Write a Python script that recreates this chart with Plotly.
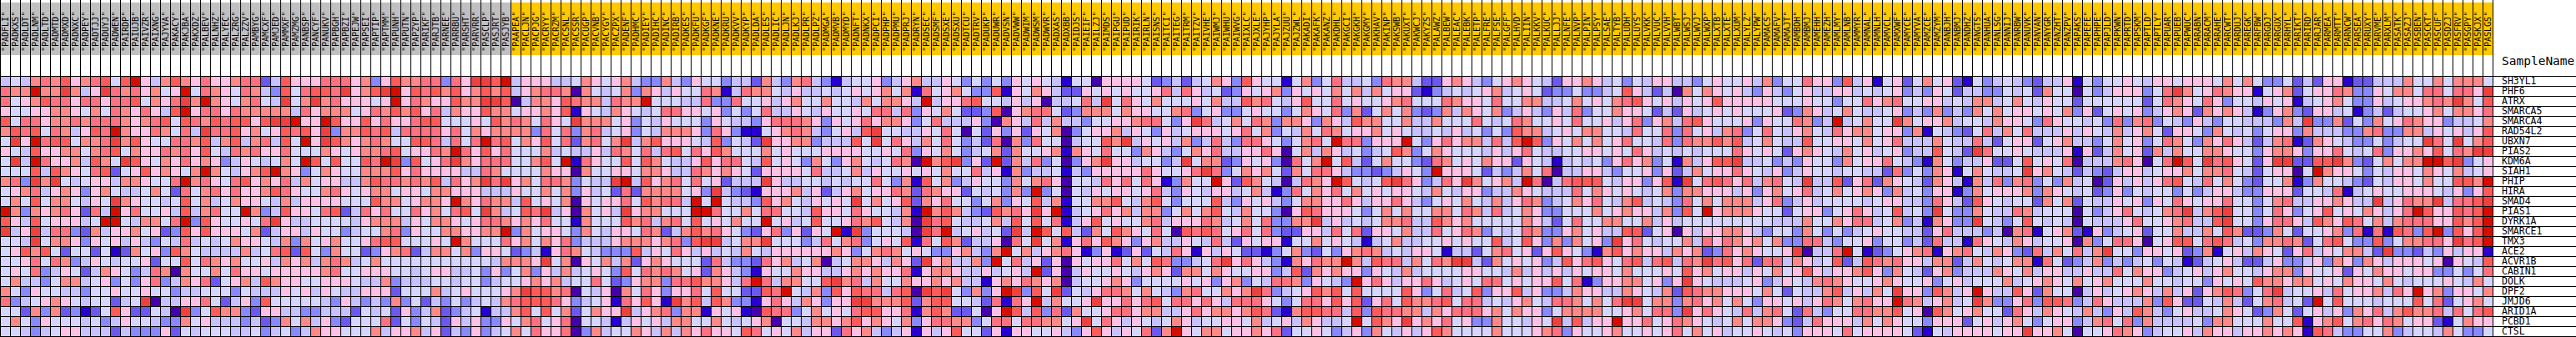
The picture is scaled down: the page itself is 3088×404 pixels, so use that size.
import plotly.graph_objects as go

genes = ["SH3YL1","PHF6","ATRX","SMARCA5","SMARCA4","RAD54L2","UBXN7","PIAS2","KDM6A","SIAH1","PHIP","HIRA","SMAD4",
         "PIAS1","DYRK1A","SMARCE1","TMX3","ACE2","ACVR1B","CABIN1","DOLK","DPF2","JMJD6","ARID1A","PCBD1","CTSL"]

samples_grey = ["PADFLI","PADKXS","PADLDT","PADLNM","PADLTD","PADMTD","PADMXD","PADNXC","PADPEY","PADTJJ","PADUYJ","PADWEN",
  "PAIRDP","PAIUJB","PAIVZR","PAIXNG","PAJYVA","PAKACY","PAKJBA","PAKXDZ","PALBEV","PALNHZ","PALYEC","PALZRG","PALZZV",
  "PAMBYG","PAMCXF","PAMJED","PAMMXF","PAMZMG","PANBSP","PANCYF","PANUKV","PAPBGH","PAPBZI","PAPEJW","PAPSEI","PAPTIP",
  "PAPTMM","PAPUNH","PAPUTN","PAPZYP","PARIKF","PARJTB","PARNEE","PARRBU","PARSHT","PARVRR","PASCLP","PASJRT","PASJYB"]
samples_gold = ["PAAPEA","PACLJN","PACPJG","PACRYY","PACRZM","PACSNL","PACSSR","PACUGP","PACVNB","PACYGY","PACZPX","PADENF","PADHMC",
  "PADIEY","PADIHC","PADINC","PADIRB","PADKES","PADKFU","PADKGF","PADKNE","PADKRU","PADKVV","PADKYP","PADLDA","PADLES","PADLIC",
  "PADLJN","PADLKJ","PADLPR","PADLPZ","PADMGA","PADMVB","PADMYD","PADNFT","PADNKX",
  "PADPCI","PADPHP","PADPMU","PADPRJ","PADRYN","PADSEC","PADSMF","PADSXE","PADSXU","PADTCU","PADTRV","PADUKP","PADUWR","PADVSN",
  "PADVWW","PADWIM","PADWSM","PADWVR","PADXAS","PADXBB","PAIDJS","PAIEIF","PAILZJ",
  "PAIMDS","PAIPGU","PAIPUD","PAIRIK","PAIRLN","PAISNS","PAITCI","PAITEG","PAITRM","PAITZV","PAIVHE","PAIWMJ","PAIWHU","PAIWVG",
  "PAIXLC","PAJXLE","PAJYHP","PAJYLA","PAJZUU","PAJZWL","PAKADI","PAKAFK","PAKANZ",
  "PAKDHL","PAKGCI","PAKGKH","PAKGMY","PAKHAV","PAKINP","PAKSWB","PAKUXT","PAKWCJ","PAKYZS","PALAWZ","PALBEW","PALEAC","PALEBK",
  "PALETP","PALFRE","PALFSE","PALGFF","PALHVD","PALIIN","PALKKV","PALKUC","PALLJJ",
  "PALNFE","PALNVP","PALPIN","PALPSY","PALSAE","PALTYB","PALUDH","PALUYS","PALVKK","PALVUC","PALVVH","PALWBT","PALWSJ","PALWVJ",
  "PALWXP","PALXTB","PALXTE","PALXUM","PALYLZ","PALYPW","PAMACS","PAMAFV","PAMAJT",
  "PAMBDH","PAMBMJ","PAMEHH","PAMEZH","PAMLMY","PAMLNB","PAMMYR","PAMNAL","PAMNLH","PAMVCL","PAMXWF","PAMYCE","PAMYVA","PAMZCE",
  "PAMZYM","PANBJH","PANBMJ","PANDHZ","PANGTS","PANHUA","PANLSG","PANNIJ","PANRBW",
  "PANUVK","PANVAN","PANYGR","PANZHT","PANZPV","PAPAKS","PAPEFE","PAPHPE","PAPJLD","PAPKWN","PAPRTD","PAPSKM","PAPTLD","PAPTLY",
  "PAPUAR","PAPUEB","PAPWUC","PARABN","PARACM","PARAHE","PARCWT","PARDUJ","PAREGK",
  "PARFBW","PARGDJ","PARGUX","PARHYL","PARIKT","PARIRD","PARJAR","PARMEA","PARMTT","PARNCW","PARSEA","PARUXY","PARVME","PARXLM",
  "PASATK","PASAZJ","PASBEN","PASCKT","PASCUF","PASDZJ","PASFRV","PASGPY","PASKJX","PASLGS"]

# Expression class of each cell, a (lowest) .. l (highest), gene by gene.
block_0 = """efehi hjghi jfjlg ehjhg igghi icejg ggiii ghdgj h
ihhlh hkheg kihig hfglf ihgfi hedjf ijjik ghjkl g
ifghj iigii giijf hgikh lhgfh ifekf hkhig ggfgl g
gffgg hhgfh fihgi gejlg iigih hhhhe ighhh fgihj h
jfiig hhihi iihgh ijfji hjijj gjkkl ggljg gjgig g
hjijf ihegj ilhgg ihfie kiijg hfgji jgkdh hjije i
fkgli jjfhh ikhjg ffiih jehje hiejf lgkjh ghihf f
gfejg ghhfh ijfhg gihig jfeih iggif ffhgf ghhij f
fkeli gghej hfkjg fhgig hgdeg fefhf ljfjf fjilk d
fffje jhgfi jcfgj ghgfh lhfeg hjlhg dfhgf fhhhj g
hidkh kfefg gehhg ffilh igfij ghgie hfgge ehjii h
fghie ghgdg hfeef hfcif higig ghjig ffhig fghhf g
fhfjf hhfeg fkhgf fefjf hefhg gfehe ggggf ffjhh f
lhdhg higci elgif fgeje hiffl hdejg gfijc eigif f
jgejf gggef llfeh hfild jgffg fikge effff eghhh e
kegke iidch egghf gcdjg jgggf hcegg egffd effhi d
ffekf hhgdg fgege dfeie fefhg gfehd hfghf fgijj f
fgjhj fcffc fbchf gdjhf eeeeh efijc jfdhf fcdgh i
ffgif ihdeg feffg cffjf ihghf fgehg hehih efhff f
fgfid egfce hgfde ihahf fhfig gfggg gghif fgggf f
fheed fhhef gdfdg idehg icfgh ejhgg ffggg feehd e
hfdgf feedf fgffg ffdee fffdf eeegf gegfe egggc f
idefg hgfef fcefk aeegg ifceg djfff ffedg ededh d
ffchd hcdbc fjgcc feakd fjhhd cggee ddeee cfefc g
fhfdg fffef degff eddhf geeed ecdhf hegdc fffic f
ffede fggee ecedd dgcfe fffee fdefd ehggf ffheg g"""

block_1 = """hiidigkkjlegggeefhgfghe
jijhjghjhjeghiihahfefhd
ihggjhhkkjaehhgjihheihh
jgiehggjhhfgghgjbgfehgf
ijjfffgfjhihfigfkhhhfgd
iiigifhghhhhdifidhiefgd
jjieifilijfhgjfichifhke
ggihligjgifffhefeegeihf
jfgikhgiiiffhjflbigffjf
iggggeeihffffhggahffggf
ihjeighkikghfiihdfeekle
gfhhgggeeegffhfhdgefcic
ghhglhgihhejfgfhagfggif
ighfijfkhefjikegahfgekg
gfhhgfgiihghgiffbhfffjh
gffhhgghhldhfggfdhfeggf
ffgflhfffighfhgideeeghh
cehhfhdggfcdebgihfedddj
ffffffffehhhgkfhagfhehc
efggeefdgdfhdgehefgfdjf
eeffeffdeffghgheffifcdg
ffhefgfffghkjjhiafegahf
fcedfdefehijjjigdefgbig
dehcdefbeehjfjfhcfhggke
dfecgegddgfhifgiaffebeg
hegcedgdefhfiggiadheffh"""

block_2 = """ddhedgffdeechedhiedbeff
hgegffihbeihhfegeefefgf
lfffeeiddiffgeghffhffeh
efiiggfgdfdfieegfegffgf
fegfffdgfeedgiiihgdgfgi
fehhhgdigdbbfghihedfgej
hjgggfejdfeckgghhdeeejf
ieijfigjhfffhfgfffggggf
jhfeegjgiifejfgfdhfdghf
hhgeeihghgfcggggfieefhe
jghififgceeekgeeffefeff
hhhhfgdkedcbggghegceghf
jhiielflfeedjghfegfgfkf
hhffflliffhfiiffejggfig
iehifjfgfhfflfgefjffgih
ihcehjhigfdcgidgcgflbkd
hghidjkkefhhkfffdeifhid
egfig egefe hfegg ggggh gdf
ghgff fcied dcigh efhae fhh
ihihf gchge dbgff hggee ghg
hhdii jhhge ilieh hffjk hie
igdgg ifjff ccjil fehdj gji
jgbkh jejhd dbgig ehgdg gkk
ghidh hbgfg bajii dfhfg fij
fgehh ffhfe fghaf fehhg hjg
gehehgiggfjifgfheggcigh"""

block_3 = """gdegh eegfd fdfdg fgfeb ffa
ghfhb ifghf ddjbg fhgec cgf
fhhge leggi jffeg egaee fie
iieid gfhfc cdjag hiifc dhh
ghhgd fieee gdahg eiehe edf
kffee gfifa fcgdg cgfha dfg
kfige hfifd eciah diffa eff
fgfid gfhfd efhch ffghb hgf
efiha lhjkd gclch eidfa dgh
gffgf gfhff iegbh deefb edg
ifdhb jfhde gffdh fhiga ffe
ggihc ihggc fefdh dldfa feg
hfgjc hgiff dfhdg fjehb ffh
ffehb lhjhe dcjhi gkglb efg
jfeha kijfe efhej fjfib egj
fffea kilef gefck eljfj ech
fgfjb ifjhc eegai fkfhb gig
hihfg fddgh edhlf heghi gbd
gehgc kghee hdlfi egcga gfg
hggib ghhge egefg elcga egf
hffhg ghghe ebghg ihgha eff
ieija kjkfd hdglk djfkc feg
hhhjc hjjff ecibi glehf fgk
jggib hjhcc faglj ejdic hff
hgfhd giihh dfiif iihhf gkf
edegb gegjf fcgbg gffge dgj"""

block_4 = """ggggf cdece fhgdj gffbf hdf
gfgff gieig efcdg fghdg fgf
kfigf hfffg fheej hifeg jff
hfhgg ffhid fgddf gffdf hgf
fgghi ifdgk iefhf ihdhh gdh
ghegf dgefg ggfgi fhdfe hfi
jhkeg fgehd eiedi igfdf hif
iffdh gedfh gieeg gigaf heh
kggef fdekf hhcdg fgdai fhl
ggggi gffgi kidfh ghfch fii
igifi gbdhf flgcj hfeae ihg
fggfg iedgf eggef hebdi fhg
hjfeh jfdff fjedg fgedf hhg
igheh hdfhf hjfeh ffdag jig
fgffh iegggihefh fiddh hke
fjhgf ifaji jifgi fidcc gge
jhgdg heegf eiecg fggbf fhf
gbcgc feigb gegfc cbdfh dcf
gifhf jidde fikgi gedbh gih
fgfeg hgchh fhgff ggdej chg
ghgdf fffgf gdghd feiih dgf
iihfh fedhi ffhgh kidef gjh
ggigi jfiig igeii igfdf iig
giigh heegi ghhgh jicbh jji
igegf efhge ffggf hefge hge
gegfi chlgf hhfgg hgicf fgf"""

block_5 = """ieefd ihhec cghge dfghg fec
hfheh fggcb defef ghefg fcd
ifgff ghiff fihgg fiffh hee
idhcf hfhdc dhehg fhdeg edg
gejhh ffhee hfffi fefih ffg
hfggh fgfee fegef dfdjh hef
liidg gglfd gighh eiejl jdg
gefde fjhdf hgfff egegi fee
fjecf hffdc ihfgf hggcg feb
geddc degfd lgggf cedeh fia
ljfef jkigd eigkh fghel iae
ifhfg fggfe hfegg deehg fee
gigeg giged fgfhf ehegi hde
ggfdf hfhff hhfih eiefh gdd
gefef hhiee jhghf ffffh gec
ificg gfhee ifgih dfefi hdd
gfebe fheef fgfgf fjefj gdh
dghih efegg fbeec fhifg cgj
hlhej iiehf ihkke chfgf gde
hggdg fehef fffgg ffehe geg
edlgi geggi gefgf iifgf ggj
jfjff ffjgd fiefj dggje gdd
jgjcg ifjhh ijfii efegh fei
iejdj iihhe hgiii ghfhg gdf
eflfj hgkgh gifgd dhffe gfk
degdh fegeg jhfff fhfff ghi"""

block_6 = """gghge fdfeg geedf gffge hdf
dfdde fjgec eahfh gfged ged
fhfgf hijgf gegfg jgggg gff
eidff hggfc ecgef gfgff fgc
fiffg egidg heijg fffgd gff
gfhhf feiff idifg ehidf ife
fhfhf giffe idihh jhjef hfe
ffggf gfige fefef ffigf gfc
efefd gighd fbheg jjkee fde
eegge dffgd gcehf ggigf egd
ijjjf eggdg jbkfi jigie hif
eifhg fgfef hdhhg ggegd ghf
fhgif ehjef edifh fhhhe gid
fffhf ghgge hdjfl ghhhg ffc
fiffh hffhe gefff fffff fee
ghfge ejjcf gageg ghhge dff
dhfgd kgife ffhei gihgh fhd
gfdbh jghgg ehghc dighg ffg
jgijg fijei jeihk ijgic iie
egfgg fhfff gfjgh fggeg fhf
fibdg ghhfg dgkgf eeefg deg
ehgge ehgfe hcjih hgggf hfc
ihfhf ikkfh hdhig hfhfd ggf
hhhhf fghfi idkgi gfeie hif
ejegg lggif gihgf efhfh hgd
dgffg hffgf gifhf geffg fef"""

block_7 = """figgd jegbf gcfhf gcbfd efe
fgeeg gefef gdedg fceed dfe
fgffd ffigh iffgg efehh efh
dhgef hfeef gdedh dedhf hfg
ihdel efhff khfgg heffe hgg
ghfei ghhfg gdhbf edcfi ehf
ejffg gfhfg ieeeh feeie cfg
ghgfe hfgef gdeej fecki ffg
dgffd hfggi fedbh fdeeg ccf
egffe ffeec idfdh gbfhf eef
ekeej cgich gfech gebhe idh
giefh fghgd hefdg gbdhf ggg
egeff ffefg geedi gecjg fef
fggdf gigef jefdk fddhf eei
ehffh giief hdebh gddkf edf
dhfdf defgf feecg ieeed eah
diied ffgdf fdeci eebig feh
kaeei lfbcd fghib ghife hgd
hgefj cejih iggeh hcehf efh
gjgeg ghjgd hfecg hdeee hgf
fehih gffgh gffgd fgeff fhe
feehj egehf kggdj heglg eej
gegih fhigg liheg hefkh ddg
ciedf fiihh jfgaj hfghf fci
ceigg gehfh gffdg ggcfg egh
dgggf ifggg gfcbf egggg fgg"""

block_8 = """dceeg bfdff gfegg fgggf hfh
fchff afdeg ggdfi khfgi hgg
fegff cffff ffcfi hgfig dff
gfgfh dgcfg fgdeg hgchg hge
fdigf fefdi dhidf edged ffe
ieeeg egfeh eghfc ggfdh fef
gcfgh eedfh fgdfi hfdhg ige
feeeg bgceh fgche hffhh gff
jfgfi aeeeh igafi ljfki jgf
kghfe cedce ggefg ghfhh ife
idfdh efacg egegi jfeif hfd
hdhgf efcdg dfeff dfdeg ged
fchfh cfeeg fgdgf igfgg iff
hefff afdeg ifefh ikehj kff
jfefe afeee giffg hieej kff
ibfgh cbgde fgcff heehf jhc
geffg ahdfi igafg jjfij ief
ciehf iehkf fdggf gcdhb fge
hbifc dehde defdf ebcef gec
hegge egeei fhggd efgeg hff
fghgf hfghf ffhff effdg fgf
gchff aegef ghgeh egcgh jid
idjji deige eehdj gccfe hec
gehgf ehedg ejhed fgeef hgf
fdfgg dehif idhee eefdh hff
kgghf affgi hgdef fgehg geg"""

block_9 = """fddfc ecggb cceee hffhf hhhf
bfghc fggih ddgfh hfiif iigk
egfgb efghf ddgef gghih khfj
bdghd cggef bdece ffghf hhgi
eedhe kddhc fdhfg ihggd eefh
dfggd heeed dhidd hhegf gegj
cehib chgfe ddfde ffkif kfhj
dghhg dggif efidg ghgjf ihkk
cgkkc cjjkh dcfhf hhllj kdfg
cfgga flhgg fdfeg gfhgf hefg
cffhb dhffe dcfeg gfhff jjhl
dgggc ffeib efgff gggfe gdgj
dfhie egghg eekeg ihhke iijk
dfigd fgjfg fhgeg iljgg jijl
dgiig ejhgj ifheh iiigg jhjl
cdhfc ffghd ibibj idjld jgjl
dhhih cfijf ddjdf hhiig kijl
hgfcg iegfh heckd dcedg eggb
cegdd egdhg dhgeg ggfga gfej
eghhd gffgc gfhgg fggdd fdfi
jhhgh hfgfh ggfhf efffg fehf
fikef fgeif gghei glghd ggfh
fhief clfjf ffeff fjfic fghf
cdhfc fgegd hgieh jhhie ifij
fhffj bghjf higih fggcb fhgg
ghghg bjied dffhd effeh fddf"""

palette = ["#4500ad","#2700d1","#6b58ef","#8888ff","#c7c1ff","#d5d5ff",
           "#ffc0e5","#ff8989","#ff7080","#ff5a5a","#ef4040","#d60c00"]
levels = "abcdefghijkl"
header_colors = ["#c0c0c0", "#ffc800"]

blocks = [block_0, block_1, block_2, block_3, block_4, block_5, block_6, block_7, block_8, block_9]
rows = ["".join(parts).replace(" ", "") for parts in zip(*[b.split("\n") for b in blocks])]
samples = samples_grey + samples_gold
n_col = len(samples)
n_row = len(genes)
assert n_col == 249, n_col
assert len(rows) == n_row
for g, r in zip(genes, rows):
    assert len(r) == n_col, (g, len(r))
z = [[levels.index(c) for c in r] for r in rows]

# geometry in pixels of the page; one axis unit is one cell
W, H, CELL = 3088, 404, 12
GRID_TOP, HEAD_TOP, HEAD_BOTTOM = 91, 3, 66
TEXT_X = 2998
def vx(px):
    return (px - CELL / 2) / CELL
def vy(px):
    return (px - GRID_TOP - CELL / 2) / CELL

def stepped(colors):
    n = len(colors)
    out = []
    for i, c in enumerate(colors):
        out += [[i / n, c], [(i + 1) / n, c]]
    return out

fig = go.Figure()
fig.add_trace(go.Heatmap(z=z, x=list(range(n_col)), y=list(range(n_row)),
                         colorscale=stepped(palette), zmin=-0.5, zmax=11.5,
                         showscale=False, hoverinfo="skip"))
fig.add_trace(go.Heatmap(z=[[0] * len(samples_grey) + [1] * len(samples_gold)],
                         x=list(range(n_col)), y=[vy(HEAD_TOP), vy(HEAD_BOTTOM)],
                         colorscale=stepped(header_colors), zmin=-0.5, zmax=1.5,
                         showscale=False, hoverinfo="skip"))

line_x, line_y = [], []
for k in range(n_col + 1):
    px = k * CELL + 0.5
    line_x += [vx(px), vx(px), None]
    line_y += [vy(0), vy(GRID_TOP + n_row * CELL + 1), None]
for k in range(n_row + 1):
    py = GRID_TOP + k * CELL + 0.5
    line_x += [vx(0), vx(W), None]
    line_y += [vy(py), vy(py), None]
fig.add_trace(go.Scatter(x=line_x, y=line_y, mode="lines", line=dict(color="#000000", width=1),
                         hoverinfo="skip", showlegend=False))

ann = []
for i, s in enumerate(samples):
    ann.append(dict(x=i, y=vy(63), xref="x", yref="y", text='"%s"' % s, showarrow=False, textangle=-90,
                    xanchor="center", yanchor="bottom", font=dict(family="DejaVu Sans Mono", size=10, color="#000000"),
                    borderpad=0))
for i, g in enumerate(genes):
    ann.append(dict(x=vx(TEXT_X), y=i + 0.5, xref="x", yref="y", text=g, showarrow=False,
                    xanchor="left", yanchor="bottom", yshift=-2,
                    font=dict(family="DejaVu Sans Mono", size=11.5, color="#000000"), borderpad=0))
ann.append(dict(x=vx(TEXT_X), y=vy(73), xref="x", yref="y", text="SampleName", showarrow=False,
                xanchor="left", yanchor="middle", font=dict(family="DejaVu Sans Mono", size=14.5, color="#000000"),
                borderpad=0))

fig.update_layout(width=W, height=H, margin=dict(l=0, r=0, t=0, b=0, pad=0),
                  paper_bgcolor="#ffffff", plot_bgcolor="#ffffff", showlegend=False,
                  xaxis=dict(range=[vx(0), vx(W)], visible=False, fixedrange=True),
                  yaxis=dict(range=[vy(H), vy(0)], visible=False, fixedrange=True),
                  annotations=ann)
fig.write_html("out.html", config=dict(displayModeBar=False, responsive=False),
               post_script="document.body.style.margin='0';document.body.style.overflow='hidden';")
